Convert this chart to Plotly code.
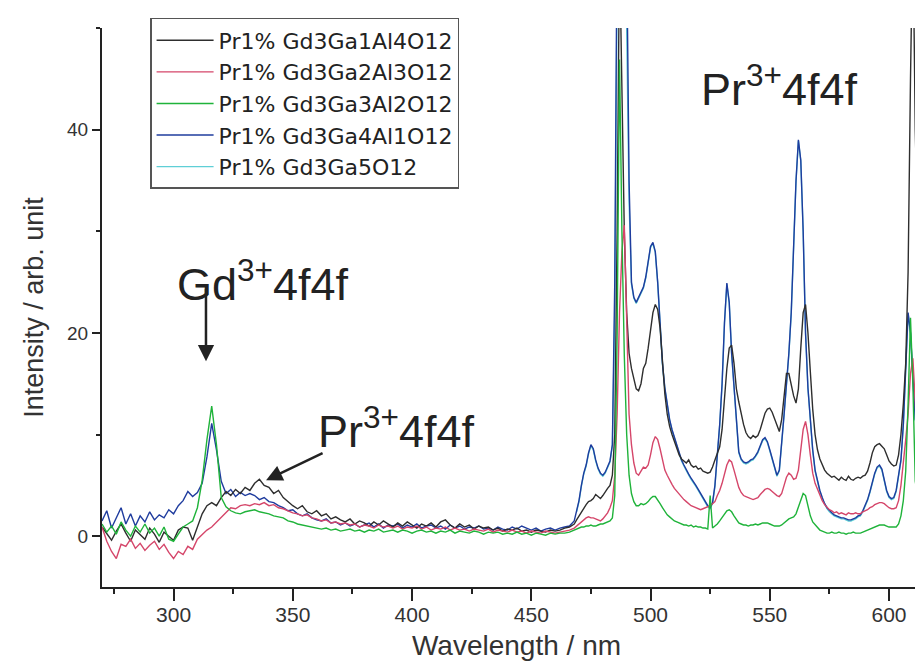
import plotly.graph_objects as go

# sampling grid (nm): coarse in the flat UV part, 1 nm in the line-rich part
wl_a = list(range(270, 469, 2))
wl_b = list(range(469, 618))
wavelength = wl_a + wl_b

names = ["Pr1% Gd3Ga1Al4O12", "Pr1% Gd3Ga2Al3O12", "Pr1% Gd3Ga3Al2O12",
         "Pr1% Gd3Ga4Al1O12", "Pr1% Gd3Ga5O12"]

ga1_a = [0.9, 0.2, -0.4, 0.5, 1.2, 0.3, -0.5, 0.6, 0.1, -0.3,
         0.8, 0.2, -0.6, 0.4, 0.0, -0.4, 0.6, 0.9, 0.8, -0.4,
         0.9, 2.2, 3.0, 3.3, 3.0, 3.8, 4.4, 4.0, 4.6, 4.2,
         4.8, 4.5, 5.2, 5.6, 5.0, 4.8, 4.2, 4.5, 3.8, 3.4,
         3.0, 2.7, 3.0, 2.4, 2.2, 2.5, 2.0, 2.2, 1.7, 1.9,
         1.6, 1.4, 1.7, 1.2, 1.5, 1.3, 1.0, 1.4, 1.1, 1.5,
         1.2, 0.9, 1.3, 1.0, 1.4, 1.1, 0.8, 1.2, 1.0, 1.3,
         0.9, 1.4, 1.6, 1.1, 0.8, 1.2, 0.9, 1.1, 0.7, 1.0,
         0.8, 0.9, 0.6, 0.8, 0.5, 0.7, 0.6, 0.8, 0.5, 0.6,
         0.4, 0.6, 0.5, 0.4, 0.6, 0.5, 0.6, 0.8, 0.9, 1.2]
ga1_b = [1.6, 2.0, 2.4, 2.8, 3.1, 3.4, 3.5, 3.7, 4.1, 3.9,
         3.7, 4.0, 4.4, 4.7, 5.0, 6.0, 10.0, 30.0, 58.0, 45.0,
         30.0, 22.0, 18.0, 16.5, 15.5, 14.5, 14.3, 15.0, 16.5, 17.0,
         18.5, 20.5, 22.0, 22.8, 22.3, 20.5, 17.5, 14.0, 12.0, 10.8,
         10.0, 9.3, 8.7, 8.0, 7.6, 7.4, 7.2, 7.5, 7.0, 6.8,
         6.9, 6.6, 6.7, 6.4, 6.3, 6.2, 6.3, 6.8, 7.5, 8.2,
         8.8, 10.5, 13.5, 16.5, 18.5, 18.8, 17.0, 14.5, 13.2, 12.0,
         11.0, 10.2, 9.8, 9.6, 9.9, 9.7, 9.9, 10.5, 11.3, 12.1,
         12.5, 12.6, 12.2, 11.5, 10.8, 10.3, 11.5, 14.0, 16.0, 16.0,
         14.8, 13.8, 13.1, 14.5, 18.5, 22.0, 22.8, 20.0, 16.2, 12.5,
         10.0, 8.5, 7.6, 7.0, 6.5, 6.2, 6.0, 5.8, 5.9, 5.7,
         5.5, 5.8, 5.6, 5.5, 5.9, 5.6, 5.5, 5.7, 5.8, 5.7,
         5.9, 6.0, 6.4, 7.2, 8.2, 8.8, 9.0, 9.1, 8.8, 8.6,
         8.0, 7.4, 7.1, 6.9, 7.0, 8.0, 10.0, 13.0, 17.0, 26.0,
         45.0, 60.0, 40.0, 30.0, 26.0, 24.5, 23.0, 22.5, 23.5]

ga2_a = [0.9, -0.5, -1.5, -2.2, -0.8, -1.0, -0.3, -1.2, -0.7, -1.4,
         -0.9, -0.5, -1.3, -0.8, -1.6, -2.2, -1.5, -1.8, -1.0, -1.3,
         -0.3, 0.2, 0.6, 0.9, 1.4, 1.8, 2.3, 2.8, 2.7, 3.0,
         3.1, 3.0, 3.2, 3.1, 3.3, 3.0, 3.1, 2.8, 2.7, 2.5,
         2.3, 2.2, 2.0, 2.1, 1.8, 1.7, 1.5, 1.6, 1.3, 1.4,
         1.2, 1.3, 1.1, 1.2, 0.9, 1.1, 1.0, 0.8, 1.1, 0.9,
         1.0, 0.8, 1.0, 0.7, 0.9, 0.8, 1.0, 0.7, 0.9, 0.6,
         0.8, 0.7, 0.9, 0.6, 0.8, 0.6, 0.7, 0.5, 0.7, 0.6,
         0.5, 0.7, 0.4, 0.6, 0.5, 0.4, 0.6, 0.4, 0.5, 0.3,
         0.5, 0.4, 0.3, 0.5, 0.4, 0.3, 0.4, 0.5, 0.6, 0.8]
ga2_b = [1.0, 1.2, 1.4, 1.6, 1.8, 1.9, 1.8, 1.8, 1.7, 1.6,
         1.5, 1.7, 2.0, 2.3, 2.8, 3.5, 6.0, 12.0, 22.0, 28.0,
         30.6, 20.0, 12.0, 9.0, 7.2, 6.2, 6.0, 6.4, 6.8, 6.7,
         7.0, 8.0, 9.2, 9.8, 9.5, 8.6, 7.4, 6.5, 6.0, 5.5,
         5.1, 4.7, 4.4, 4.1, 3.9, 3.6, 3.4, 3.2, 3.0, 2.9,
         2.8, 2.7, 2.6, 2.7, 2.8, 2.9, 3.0, 3.2, 3.4, 4.0,
         4.5, 5.2, 6.0, 7.0, 7.5, 7.3, 6.5, 5.6, 4.8, 4.3,
         4.0, 3.9, 3.8, 3.7, 3.6, 3.7, 3.8, 4.1, 4.4, 4.6,
         4.7, 4.6, 4.4, 4.2, 4.0, 3.9, 4.2, 5.0, 5.8, 6.2,
         6.0, 5.6, 5.7, 6.5, 8.5, 10.5, 11.3, 10.0, 8.0, 6.2,
         5.2, 4.6, 4.0, 3.5, 3.1, 2.8, 2.6, 2.5, 2.3, 2.4,
         2.2, 2.3, 2.2, 2.1, 2.3, 2.2, 2.2, 2.3, 2.2, 2.2,
         2.4, 2.5, 2.6, 2.8, 2.9, 3.1, 3.2, 3.3, 3.3, 3.2,
         3.0, 2.8, 2.7, 2.7, 2.8, 3.5, 5.0, 7.0, 9.5, 12.0,
         16.0, 17.5, 13.0, 9.0, 7.2, 6.7, 7.2, 8.0, 9.2]

ga3_a = [1.2, 0.4, 1.0, 0.2, 1.4, 0.6, 0.0, 1.0, 0.4, 1.2,
         0.3, 0.8, 0.0, 0.9, -0.3, -0.5, 0.2, 0.9, 1.2, 1.5,
         2.8, 5.5, 9.5, 12.8, 9.0, 3.8, 2.9, 2.5, 2.3, 2.2,
         2.4, 2.5, 2.6, 2.4, 2.3, 2.2, 2.0, 1.9, 1.8, 1.5,
         1.4, 1.2, 1.1, 1.0, 0.9, 0.8, 0.7, 0.8, 0.6, 0.7,
         0.5, 0.6, 0.7, 0.5, 0.6, 0.4, 0.6, 0.5, 0.7, 0.4,
         0.5, 0.6, 0.4, 0.6, 0.5, 0.3, 0.5, 0.6, 0.4, 0.5,
         0.3, 0.5, 0.4, 0.6, 0.3, 0.5, 0.4, 0.3, 0.5, 0.4,
         0.2, 0.4, 0.3, 0.4, 0.2, 0.3, 0.2, 0.4, 0.2, 0.3,
         0.1, 0.3, 0.2, 0.1, 0.3, 0.2, 0.3, 0.3, 0.4, 0.6]
ga3_b = [0.7, 0.8, 0.9, 0.9, 1.0, 1.0, 1.1, 1.0, 1.0, 1.1,
         1.2, 1.2, 1.3, 1.4, 1.5, 1.8, 4.0, 20.0, 46.9, 30.0,
         17.8, 10.0, 6.0, 4.2, 3.4, 3.0, 3.0, 3.2, 3.1, 3.2,
         3.4, 3.7, 3.9, 3.9, 3.6, 3.2, 2.8, 2.4, 2.1, 1.9,
         1.7, 1.5, 1.4, 1.3, 1.2, 1.1, 1.1, 1.0, 1.1, 0.9,
         1.0, 0.9, 0.9, 0.8, 0.8, 0.7, 4.0, 0.8, 1.0, 1.2,
         1.5, 1.8, 2.2, 2.5, 2.6, 2.4, 2.0, 1.6, 1.3, 1.2,
         1.1, 1.1, 1.0, 1.1, 1.1, 1.2, 1.1, 1.2, 1.3, 1.3,
         1.3, 1.2, 1.1, 1.0, 1.0, 1.0, 1.1, 1.3, 1.5, 1.7,
         1.8, 1.9, 2.2, 2.8, 3.6, 4.2, 4.0, 3.0, 2.0, 1.4,
         1.1, 0.8, 0.6, 0.5, 0.4, 0.3, 0.3, 0.4, 0.3, 0.3,
         0.4, 0.3, 0.3, 0.2, 0.3, 0.3, 0.4, 0.3, 0.3, 0.3,
         0.4, 0.5, 0.6, 0.7, 0.8, 0.9, 1.0, 1.1, 1.1, 1.1,
         1.0, 0.9, 0.9, 0.9, 0.9, 1.2, 2.0, 3.5, 6.4, 13.0,
         21.5, 15.0, 5.4, 4.0, 3.5, 3.2, 3.1, 3.3, 3.5]

ga4_a = [1.5, 2.5, 0.8, 1.8, 2.8, 1.2, 2.2, 1.0, 2.0, 1.4,
         2.4, 1.6, 2.1, 1.8, 2.6, 2.2, 3.0, 3.5, 4.4, 3.9,
         4.3, 5.2, 7.8, 11.1, 8.5, 5.4, 4.2, 4.6, 3.9, 4.3,
         4.0, 4.2, 4.0, 3.6, 3.8, 3.4, 3.3, 3.0, 2.8, 2.5,
         2.6, 2.2, 2.0, 2.2, 1.8, 1.6, 1.5, 1.7, 1.3, 1.4,
         1.1, 1.3, 1.0, 1.2, 0.9, 1.1, 1.3, 0.9, 1.2, 0.8,
         1.1, 1.0, 1.2, 0.8, 1.1, 0.9, 1.2, 0.8, 1.0, 1.1,
         0.8, 1.0, 0.7, 1.1, 0.8, 1.0, 0.7, 0.9, 0.8, 1.0,
         0.7, 0.8, 0.6, 0.9, 0.7, 0.6, 0.9, 0.7, 1.0, 0.8,
         0.6, 0.8, 0.5, 0.7, 0.8, 0.6, 0.8, 0.9, 1.0, 1.5]
ga4_b = [2.5, 3.5, 5.0, 6.2, 7.0, 8.2, 9.0, 8.6, 7.5, 6.7,
         6.2, 6.0, 6.3, 6.8, 7.4, 9.0, 25.0, 60.0, 65.0, 60.0,
         62.0, 58.0, 35.0, 25.0, 23.5, 23.0, 23.5, 24.0, 24.5, 25.5,
         27.0, 28.5, 28.9, 28.0, 25.0, 21.0, 17.0, 14.6, 12.8, 11.5,
         10.5, 9.7, 8.9, 8.2, 7.5, 7.0, 6.5, 6.1, 5.7, 5.4,
         5.0, 4.6, 4.2, 3.8, 3.4, 3.0, 2.8, 3.3, 5.0, 8.0,
         11.0, 15.0, 21.0, 24.9, 23.0, 18.0, 14.5, 11.0, 8.3, 7.6,
         7.3, 7.2, 7.3, 7.5, 7.6, 7.9, 8.3, 8.9, 9.5, 9.7,
         9.3, 8.5, 7.6, 6.8, 6.0, 6.5, 9.0, 12.0, 15.0, 18.0,
         22.0, 28.0, 35.0, 39.0, 37.0, 30.0, 20.0, 14.6, 11.0, 8.5,
         6.5, 5.4, 4.5, 3.8, 3.2, 2.8, 2.5, 2.3, 2.1, 2.0,
         1.9, 1.8, 1.8, 1.7, 1.6, 1.6, 1.7, 1.8, 2.0, 2.1,
         2.5, 3.0, 3.6, 4.4, 5.3, 6.2, 6.8, 7.0, 6.6, 5.5,
         4.5, 3.9, 3.7, 3.8, 4.5, 6.0, 7.5, 11.0, 17.0, 22.0,
         20.0, 15.0, 11.5, 10.9, 14.0, 22.0, 32.0, 40.0, 45.0]

# Gd3Ga5O12 trace: visible only as a light fringe along the Ga4Al1 trace
ga5_b = [2.4, 3.4, 4.9, 6.1, 6.9, 8.1, 8.9, 8.5, 7.4, 6.6,
         6.1, 5.9, 6.2, 6.7, 7.3, 8.9, 22.0, 55.0, 70.0, 62.0,
         58.0, 50.0, 33.0, 24.8, 23.4, 22.9, 23.4, 23.9, 24.4, 25.4,
         26.9, 28.4, 28.8, 27.9, 24.9, 20.9, 16.9, 14.5, 12.7, 11.4,
         10.4, 9.6, 8.8, 8.1, 7.4, 6.9, 6.4, 6.0, 5.6, 5.3,
         4.9, 4.5, 4.1, 3.7, 3.3, 2.9, 2.7, 3.2, 4.9, 7.9,
         10.9, 14.9, 20.9, 24.8, 22.9, 17.9, 14.4, 10.9, 8.2, 7.5,
         7.2, 7.1, 7.2, 7.4, 7.5, 7.8, 8.2, 8.8, 9.4, 9.6,
         9.2, 8.4, 7.5, 6.7, 5.9, 6.4, 8.9, 11.9, 14.9, 17.9,
         21.9, 27.9, 34.9, 38.9, 36.9, 29.9, 19.9, 14.5, 10.9, 8.4,
         6.4, 5.3, 4.4, 3.7, 3.1, 2.7, 2.4, 2.2, 2.0, 1.9,
         1.8, 1.7, 1.7, 1.6, 1.5, 1.5, 1.6, 1.7, 1.9, 2.0,
         2.4, 2.9, 3.5, 4.3, 5.2, 6.1, 6.7, 6.9, 6.5, 5.4,
         4.4, 3.8, 3.6, 3.7, 4.4, 5.9, 7.4, 10.9, 16.9, 21.9,
         19.9, 14.9, 11.4, 10.8, 14.5, 24.0, 35.0, 43.0, 48.0]

colors = ["#2e2e2e", "#d5466a", "#1fb33a", "#1f3c9e", "#5fcfd6"]

fig = go.Figure()
# drawing order: Ga5 (bottom), Ga4, Ga1, Ga2, Ga3 (top); legend keeps the original order
draw = [
    (4, wl_b, ga5_b),
    (3, wavelength, ga4_a + ga4_b),
    (0, wavelength, ga1_a + ga1_b),
    (1, wavelength, ga2_a + ga2_b),
    (2, wavelength, ga3_a + ga3_b),
]
for idx, xs, ys in draw:
    fig.add_trace(go.Scatter(
        x=xs, y=ys, mode="lines", name=names[idx],
        line=dict(color=colors[idx], width=1.4),
        legendrank=idx + 1,
    ))

txt = "#222222"
fig.update_layout(
    width=923, height=664,
    margin=dict(l=94, r=0, t=20, b=85),
    paper_bgcolor="white", plot_bgcolor="white",
    font=dict(family="Liberation Sans, Arial, sans-serif", color=txt),
    showlegend=True,
    legend=dict(x=0.058, y=1.018, xanchor="left", yanchor="top",
                bgcolor="white", bordercolor="#555", borderwidth=1.5,
                font=dict(size=22, color=txt, family="DejaVu Sans, sans-serif"),
                itemwidth=57, tracegroupgap=0),
    xaxis=dict(range=[270, 617.6], showline=True, linecolor=txt, linewidth=2,
               ticks="outside", ticklen=12, tickwidth=2, tickcolor=txt,
               tick0=300, dtick=50, showgrid=False, zeroline=False,
               ticklabelstandoff=-4,
               tickfont=dict(size=21, color="#333"),
               minor=dict(ticks="outside", ticklen=5, tickwidth=2, tickcolor=txt,
                          tick0=275, dtick=25, showgrid=False),
               title=dict(text="Wavelength / nm", font=dict(size=28, color="#333"),
                          standoff=10)),
    yaxis=dict(range=[-5, 50], showline=True, linecolor=txt, linewidth=2,
               ticks="outside", ticklen=8, tickwidth=2, tickcolor=txt,
               tick0=0, dtick=20, showgrid=False, zeroline=False,
               tickfont=dict(size=19, color="#333"),
               minor=dict(ticks="outside", ticklen=4, tickwidth=2, tickcolor=txt,
                          tick0=0, dtick=10, showgrid=False),
               title=dict(text="Intensity / arb. unit", font=dict(size=27, color="#333"),
                          standoff=16)),
)

ann_font = dict(size=45, color=txt, family="Liberation Sans, Arial, sans-serif")
fig.add_annotation(x=337.5, y=25.1, xref="x", yref="y", text="Gd<sup>3+</sup>4f4f",
                   showarrow=False, font=ann_font)
fig.add_annotation(x=393.3, y=10.6, xref="x", yref="y", text="Pr<sup>3+</sup>4f4f",
                   showarrow=False, font=ann_font)
fig.add_annotation(x=553.9, y=44.3, xref="x", yref="y", text="Pr<sup>3+</sup>4f4f",
                   showarrow=False, font=ann_font)
# arrows
fig.add_annotation(x=313.6, y=17.2, xref="x", yref="y", text="", showarrow=True,
                   ax=0, ay=-74, arrowhead=2, arrowsize=1.3, arrowwidth=2.5,
                   arrowcolor=txt)
fig.add_annotation(x=338.8, y=5.5, xref="x", yref="y", text="", showarrow=True,
                   ax=58, ay=-28, arrowhead=2, arrowsize=1.3, arrowwidth=2.5,
                   arrowcolor=txt)

fig.write_html("out.html")
